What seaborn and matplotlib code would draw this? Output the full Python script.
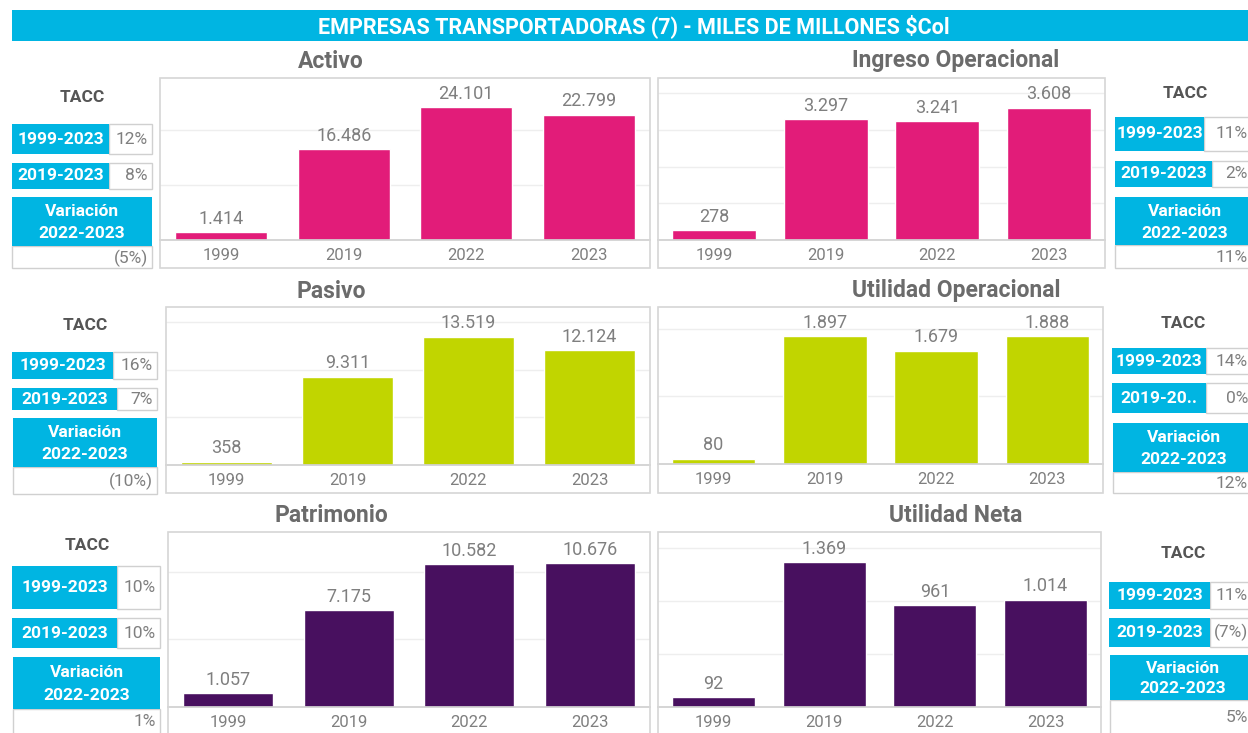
import numpy as np
import seaborn as sns
import matplotlib.pyplot as plt
from matplotlib.patches import Rectangle

# datos (miles de millones $Col)
years = ['1999', '2019', '2022', '2023']
activo = [1414, 16486, 24101, 22799]
ingreso = [278, 3297, 3241, 3608]
pasivo = [358, 9311, 13519, 12124]
util_op = [80, 1897, 1679, 1888]
patrimonio = [1057, 7175, 10582, 10676]
util_neta = [92, 1369, 961, 1014]

# TACC 1999-2023, TACC 2019-2023, variacion 2022-2023
tacc_activo = ['12%', '8%', '(5%)']
tacc_ingreso = ['11%', '2%', '11%']
tacc_pasivo = ['16%', '7%', '(10%)']
tacc_util_op = ['14%', '0%', '12%']
tacc_patrimonio = ['10%', '10%', '1%']
tacc_util_neta = ['11%', '(7%)', '5%']

main_title = 'EMPRESAS TRANSPORTADORAS (7) - MILES DE MILLONES $Col'

PINK = '#E21C79'
LIME = '#C1D500'
PURPLE = '#48105F'
CYAN = '#00B5E2'
GRAY_TXT = '#7F7F7F'
TITLE_TXT = '#6B6B6B'

W, H = 1248, 733

sns.set_theme(style='white')
plt.rcParams['font.family'] = ['Roboto', 'DejaVu Sans']

fig = plt.figure(figsize=(W / 100, H / 100), dpi=100)


def rect(x0, y0, x1, y1, **kw):
    fig.patches.append(Rectangle((x0 / W, 1 - y1 / H), (x1 - x0) / W, (y1 - y0) / H,
                                 transform=fig.transFigure, **kw))


def txt(x, y, s, **kw):
    fig.text(x / W, 1 - y / H, s, **kw)


def fmt(v):
    return f'{v:,}'.replace(',', '.')


# barra del titulo
rect(12, 10, 1248, 41, facecolor=CYAN, edgecolor='none')
txt(634, 26, main_title, color='white', fontsize=15.5, fontweight='bold',
    ha='center', va='center')

# (titulo, valores, color, marco, linea base, ymax, paso grilla, centro titulo)
paneles = [
    ('Activo', activo, PINK, (160, 78, 650, 268), 240, 29450, 10000, (331, 61)),
    ('Ingreso Operacional', ingreso, PINK, (658, 78, 1105, 268), 240, 4414, 1000, (956, 61)),
    ('Pasivo', pasivo, LIME, (166, 307, 650, 493), 465, 16630, 5000, (331, 291)),
    ('Utilidad Operacional', util_op, LIME, (658, 307, 1103, 493), 464, 2324, 1000, (956, 291)),
    ('Patrimonio', patrimonio, PURPLE, (168, 532, 650, 740), 707, 12960, 5000, (331, 516)),
    ('Utilidad Neta', util_neta, PURPLE, (658, 532, 1101, 740), 707, 1651, 500, (956, 516)),
]

for titulo, vals, color, (x0, y0, x1, y1), base, ymax, paso, (tx, ty) in paneles:
    rect(x0, y0, x1, y1, facecolor='none', edgecolor='#D6D6D6', linewidth=1.2)
    ax = fig.add_axes([x0 / W, 1 - base / H, (x1 - x0) / W, (base - y0) / H])
    sns.barplot(x=years, y=vals, color=color, saturation=1, width=0.75, ax=ax)
    ax.set_xlim(-0.5, 3.5)
    ax.set_ylim(0, ymax)
    ax.set_yticks(np.arange(paso, ymax, paso))
    ax.yaxis.grid(True, color='#EEEEEE', linewidth=1)
    ax.set_axisbelow(True)
    ax.tick_params(axis='y', left=False, labelleft=False)
    ax.tick_params(axis='x', length=0, pad=5.5, labelsize=12, labelcolor=GRAY_TXT)
    ax.set_xticks([0.5, 1.5, 2.5], minor=True)
    ax.tick_params(axis='x', which='minor', length=4, color='#E4E4E4', width=1)
    ax.set_xlabel('')
    ax.set_ylabel('')
    for s in ['left', 'right', 'top']:
        ax.spines[s].set_visible(False)
    ax.spines['bottom'].set_color('#D0D0D0')
    ax.patch.set_alpha(0)
    ax.bar_label(ax.containers[0], labels=[fmt(v) for v in vals], padding=3,
                 color=GRAY_TXT, fontsize=13)
    txt(tx, ty, titulo, color=TITLE_TXT, fontsize=16.5, fontweight='bold',
        ha='center', va='center')

# cuadros TACC: posicion de "TACC", caja 1, caja 2, caja variacion, etiqueta periodo 2
tacc_cfg = [
    (tacc_activo, (82, 98), (12, 124, 109, 152, 154), (12, 163, 109, 152, 189),
     (12, 197, 152, 246, 268), '2019-2023'),
    (tacc_ingreso, (1185, 94), (1115, 117, 1204, 1252, 151), (1115, 161, 1212, 1252, 187),
     (1115, 197, 1252, 245, 268), '2019-2023'),
    (tacc_pasivo, (85, 326), (12, 352, 113, 157, 379), (12, 388, 117, 157, 410),
     (13, 418, 157, 467, 494), '2019-2023'),
    (tacc_util_op, (1183, 323), (1112, 348, 1206, 1252, 374), (1112, 383, 1206, 1252, 413),
     (1113, 423, 1252, 472, 493), '2019-20..'),
    (tacc_patrimonio, (87, 546), (12, 566, 117, 160, 609), (12, 618, 117, 160, 648),
     (13, 657, 160, 709, 740), '2019-2023'),
    (tacc_util_neta, (1183, 553), (1109, 582, 1210, 1252, 609), (1109, 618, 1210, 1252, 647),
     (1110, 655, 1252, 700, 740), '2019-2023'),
]

for vals, (tx, ty), b1, b2, bv, per2 in tacc_cfg:
    txt(tx, ty, 'TACC', color='#555555', fontsize=12.5, fontweight='bold',
        ha='center', va='center')
    for (xa, ya, xb, xc, yb), lab, v in [(b1, '1999-2023', vals[0]), (b2, per2, vals[1])]:
        rect(xb, ya, xc, yb, facecolor='white', edgecolor='#D0D0D0', linewidth=1)
        rect(xa, ya, xb, yb, facecolor=CYAN, edgecolor='none')
        txt((xa + xb) / 2, (ya + yb) / 2, lab, color='white', fontsize=12.5,
            fontweight='bold', ha='center', va='center')
        txt(min(xc, 1252) - 4, (ya + yb) / 2, v, color=GRAY_TXT, fontsize=12.5,
            ha='right', va='center')
    xa, ya, xb, ym, yb = bv
    rect(xa, ym, xb, yb, facecolor='white', edgecolor='#D0D0D0', linewidth=1)
    rect(xa, ya, xb, ym, facecolor=CYAN, edgecolor='none')
    cx = (xa + xb) / 2 if xb < 1248 else (xa + 1255) / 2
    txt(cx, ya + (ym - ya) * 0.3, 'Variación', color='white', fontsize=12.5,
        fontweight='bold', ha='center', va='center')
    txt(cx, ya + (ym - ya) * 0.75, '2022-2023', color='white', fontsize=12.5,
        fontweight='bold', ha='center', va='center')
    txt(min(xb, 1252) - 4, (ym + min(yb, 733)) / 2 + 1, vals[2], color=GRAY_TXT,
        fontsize=12.5, ha='right', va='center')

fig.savefig('out.png', dpi=100)
